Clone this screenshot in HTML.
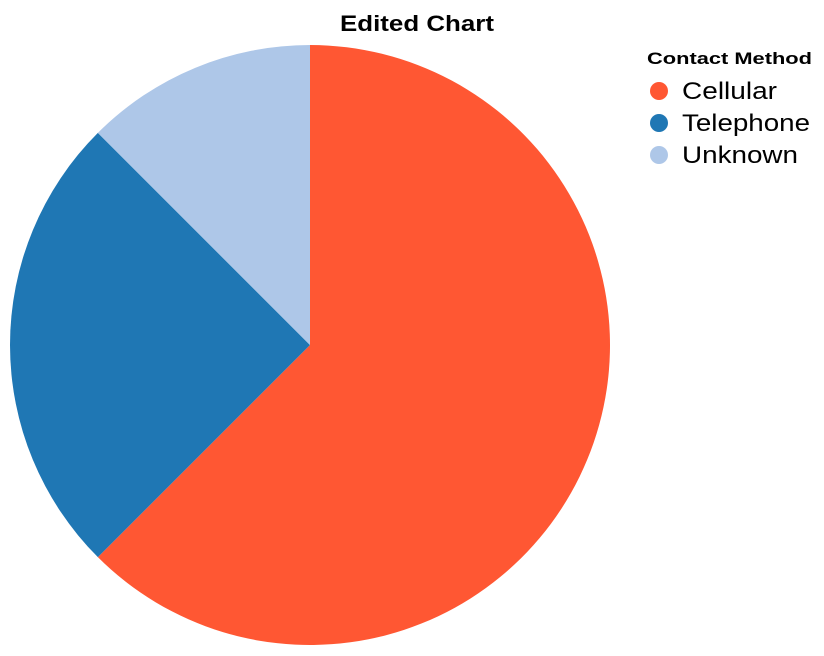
<!DOCTYPE html>
<html><head><meta charset="utf-8"><style>
html,body{margin:0;padding:0;background:#fff;}
svg{display:block;font-family:"Liberation Sans",Arial,sans-serif;}
</style></head><body>
<svg id="chart" width="824" height="656">
<text x="340" y="31" font-size="22" font-weight="bold" fill="#000" textLength="154" lengthAdjust="spacingAndGlyphs">Edited Chart</text>
<g id="slices"></g>
<g id="legend">
<text x="647" y="64" font-size="17" font-weight="bold" fill="#000" textLength="165" lengthAdjust="spacingAndGlyphs">Contact Method</text>
</g>
</svg>
<script>
const categories = ["Cellular", "Telephone", "Unknown"];
const values = [25, 10, 5];
const colors = ["#ff5733", "#1f77b4", "#aec7e8"];
const labelWidths = [95, 128, 116];
const cx = 310, cy = 345, r = 300;
const NS = "http://www.w3.org/2000/svg";
const total = values.reduce((a, b) => a + b, 0);
const slices = document.getElementById("slices");
const legend = document.getElementById("legend");
function pt(a) { return [cx + r * Math.sin(a), cy - r * Math.cos(a)]; }
let acc = 0;
values.forEach((v, i) => {
  const a0 = acc / total * 2 * Math.PI;
  acc += v;
  const a1 = acc / total * 2 * Math.PI;
  const p0 = pt(a0), p1 = pt(a1);
  const large = (a1 - a0) > Math.PI ? 1 : 0;
  const path = document.createElementNS(NS, "path");
  path.setAttribute("d", `M${cx},${cy} L${p0[0]},${p0[1]} A${r},${r} 0 ${large} 1 ${p1[0]},${p1[1]} Z`);
  path.setAttribute("fill", colors[i]);
  
  
  slices.appendChild(path);

  const y = 91 + i * 32;
  const c = document.createElementNS(NS, "circle");
  c.setAttribute("cx", 659); c.setAttribute("cy", y); c.setAttribute("r", 9);
  c.setAttribute("fill", colors[i]);
  
  
  legend.appendChild(c);
  const t = document.createElementNS(NS, "text");
  t.setAttribute("x", 682); t.setAttribute("y", y + 8);
  t.setAttribute("font-size", "24"); t.setAttribute("fill", "#000");
  t.setAttribute("textLength", labelWidths[i]);
  t.setAttribute("lengthAdjust", "spacingAndGlyphs");
  t.textContent = categories[i];
  
  
  legend.appendChild(t);
});
</script>
</body></html>
